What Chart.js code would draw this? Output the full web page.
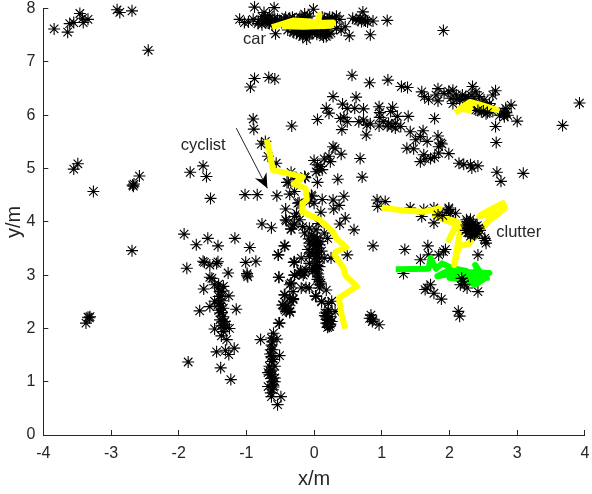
<!DOCTYPE html>
<html lang="en">
<head>
  <meta charset="UTF-8">
  <title>Radar detections</title>
  <script src="https://cdn.jsdelivr.net/npm/chart.js"></script>
  <style>
    html, body { margin: 0; background: #fff; }
    canvas { display: block; }
  </style>
</head>
<body>
<canvas id="chart" width="592" height="494"></canvas>

<script>
  const xTicks = [-4, -3, -2, -1, 0, 1, 2, 3, 4];
  const yTicks = [0, 1, 2, 3, 4, 5, 6, 7, 8];

  const farLeftPoints = [
    [-3.84,7.62],[-3.64,7.56],[-3.61,7.72],[-3.55,7.74],[-3.46,7.91],[-3.42,7.82],[-3.41,7.74],[-3.34,7.8],
    [-2.91,7.98],[-2.87,7.93],[-2.69,7.96],[-2.45,7.22],[-3.55,4.99],[-3.49,5.09],[-3.26,4.57],[-2.68,4.69],
    [-2.66,4.71],[-2.67,4.67],[-2.58,4.86],[-1.83,4.93],[-1.64,5.05],[-1.59,4.85],[-1.53,4.44],[-1.02,4.51],
    [-0.84,4.51],[-1.92,3.77],[-1.57,3.69],[-1.17,3.69],[-2.69,3.46],[-3.37,2.1],[-3.34,2.21],[-3.31,2.22],
    [-3.32,2.2],[-1.86,1.37],[-1.88,3.13],[-1.74,3.57],[-1.42,3.55]
  ];
  const carPoints = [
    [-0.88,8.03],[-0.59,8.02],[-0.74,7.93],[-0.01,7.99],[0.72,7.94],[1.08,7.78],[0.83,7.51],[0.52,7.49],
    [-0.57,7.53],[1.91,7.59],[-0.14,7.9],[-0.66,7.88],[-0.77,7.85],[0.33,7.86],
    [-1.1,7.8],[-1.03,7.74],[-0.97,7.75],[-0.9,7.8],[-0.83,7.72],[-0.77,7.7],[-0.71,7.76],[-0.66,7.72],
    [-0.61,7.8],[-0.56,7.74],[-0.51,7.78],[-0.44,7.8],[-0.36,7.82],[-0.29,7.8],[-0.21,7.84],[-0.14,7.82],
    [-0.07,7.86],[0.15,7.82],[0.23,7.84],[0.3,7.8],[0.38,7.8],[0.57,7.82],[0.65,7.78],[0.7,7.76],
    [0.74,7.8],[0.79,7.75],[0.87,7.77],[-0.82,7.76],[-0.74,7.78],[-0.69,7.8],[-0.63,7.76],[-0.58,7.8],
    [-0.39,7.6],[-0.31,7.57],[-0.26,7.54],[-0.21,7.51],[-0.17,7.48],[-0.11,7.43],[-0.07,7.51],[-0.02,7.54],
    [0.06,7.57],[0.13,7.51],[0.18,7.48],[0.25,7.54],[0.33,7.63],[0.4,7.6],[0.46,7.66],[-0.3,7.55],
    [-0.22,7.6],[-0.14,7.56],[-0.06,7.6],[0.02,7.58],[0.1,7.58],[0.2,7.6],[-0.16,7.52],[0.14,7.47],
    [-0.72,7.82],[-0.68,7.74],[-0.62,7.7],[-0.54,7.8],[-0.48,7.74],[-0.42,7.84],[-0.32,7.84],[-0.25,7.78],
    [-0.18,7.83],[-0.1,7.84],[0.12,7.84],[0.2,7.8],[0.27,7.83],[-0.26,7.6],[-0.18,7.56],[-0.1,7.52],
    [-0.03,7.58],[0.04,7.52],[0.1,7.53],[0.17,7.55],[0.22,7.52],[0.62,7.8],[0.68,7.82],[0.76,7.77]
  ];
  const upperRightPoints = [
    [0.56,6.75],[0.82,6.61],[1.09,6.66],[1.29,6.54],[1.38,6.52],[1.59,6.44],[1.63,6.35],[1.69,6.3],
    [1.83,6.5],[1.8,6.38],[1.83,6.27],[1.92,6.41],[1.99,6.45],[2.05,6.47],[2.02,6.32],[2.1,6.38],
    [2.15,6.29],[2.05,6.22],[2.19,6.38],[2.24,6.35],[2.34,6.54],[2.39,6.44],[2.32,6.38],[2.44,6.35],
    [2.51,6.29],[2.59,6.22],[2.68,6.46],[2.64,6.38],[2.91,6.19],[2.83,6.13],[2.79,6.07],[2.86,6],
    [2.81,5.97],[2.74,6],[3,5.89],[2.68,5.79],[1.78,5.94],[2.64,6.07],[2.54,6.03],[2.47,6.07],
    [2.39,6.1],[2.37,6.22],[2.44,6.14],[3.92,6.23],[3.67,5.81],[2.69,5.49],[2.7,4.93],[3.09,4.91],[2.76,4.76],
    [2.1,6.3],[2.2,6.3],[2.28,6.32],[2.36,6.32],[2.48,6.24],[2.55,6.18],[2.62,6.14],[2.84,6.05],[2.8,6.02]
  ];
  const midPoints = [
    [2.14,5.1],[2.21,5.08],[2.31,5.07],[2.33,5.01],[2.42,5.05],[1.99,5.28],[1.84,5.29],[1.78,5.21],
    [1.72,5.19],[1.64,5.18],[1.57,5.13],[1.62,5.26],[1.37,5.38],[1.47,5.37],[1.83,5.61],[1.87,5.48],
    [1.89,5.46],[1.84,5.41],[1.67,5.51],[1.61,5.71],[1.57,5.6],[1.5,5.54],[1.42,5.69],[1.39,5.98],
    [0.28,6.35],[0.62,6.34],[0.18,6.13],[0.22,6.04],[0.42,6.21],[0.49,6.13],[0.6,6.13],[0.73,6.12],
    [0.05,5.92],[0.39,5.94],[0.44,5.96],[0.49,5.88],[0.41,5.73],[0.66,5.88],[0.73,5.91],[0.78,5.82],
    [0.83,5.84],[0.77,5.63],[0.96,6.16],[0.97,6.05],[1.16,6.15],[1.13,6.07],[0.96,5.8],[0.97,5.96],
    [1.08,5.8],[1.15,5.79],[1.2,5.76],[1.23,5.98],[1.2,5.85],[1.28,5.79],[1.1,5.85],[1.02,5.88],
    [0.28,5.41],[0.31,5.38],[0.4,5.27],[0.68,5.19],[0.22,5.23],[0.24,5.13],[0.15,5.18],[0,5.15],
    [0.05,5.07],[0.07,4.98],[0.1,5.04],[0.03,4.94],[0.12,4.98],[0.35,4.8],[0.71,4.84],[0.05,4.74],
    [-0.13,4.83],[0.93,4.41],[1.05,4.38],[0.94,4.29],[0.44,4.48],[0.28,4.41],[0.12,4.42],[0.29,4.24],
    [0.37,4.31],[0.1,4.18],[-0.03,4.48],[0,4.35],[0.46,4.07],[0.38,3.96],[0.59,3.85],[0.87,3.55],[0.49,3.38]
  ];
  const cyclistTopPoints = [
    [-0.88,6.69],[-0.94,6.53],[-0.67,6.71],[-0.58,6.68],[-0.9,5.93],[-0.89,5.74],[-0.33,5.8],[-0.78,5.46],
    [-0.72,5.51],[-0.68,5.23],[-0.56,5.1],[-0.34,4.93],[-0.4,4.74],[-0.29,4.79],[-0.29,4.57],[-0.36,4.52],
    [-0.55,4.49],[-0.24,4.35],[-0.42,4.24],[-0.26,4.16],[-0.29,4.1],[-0.42,4.04],[-0.29,3.96],[-0.34,3.87],
    [-0.77,3.96],[-0.63,3.89],[-0.14,4.85],[-0.38,4.74],[-0.22,4.36],[-0.04,4.5],[-0.07,4.38]
  ];
  const centerPoints = [
    [-0.41,4.02],[-0.21,4.04],[-0.34,3.86],[-0.31,3.94],[-0.17,3.91],[-0.14,3.79],[-0.07,3.88],[0.03,3.85],
    [0.06,3.97],[0.15,3.79],[0.2,3.69],[-0.43,3.55],[-0.53,3.38],[-0.07,3.6],[0.01,3.63],[0.08,3.57],
    [-0.09,3.48],[-0.02,3.48],[0.06,3.51],[0.11,3.45],[-0.19,3.32],[-0.29,3.25],[-0.07,3.35],[0.01,3.32],
    [0.08,3.32],[0.15,3.32],[0.25,3.32],[-0.07,3.22],[0.01,3.19],[0.08,3.16],[-0.12,3.1],[-0.19,3.05],
    [-0.14,3.04],[-0.02,3.07],[-0.29,3],[-0.52,2.96],[0.06,2.97],[0.08,2.88],[-0.34,2.85],[-0.19,2.76],
    [-0.12,2.77],[-0.07,2.76],[0.08,2.76],[0.18,2.72],[-0.43,2.63],[-0.31,2.69],[-0.36,2.57],[-0.31,2.54],
    [0.03,2.6],[0.11,2.51],[0.21,2.47],[0.26,2.51],[-0.46,2.44],[-0.43,2.35],[-0.36,2.3],[0.16,2.29],
    [0.21,2.35],[0.31,2.32],[0.18,2.22],[0.25,2.22],[0.21,2.07],[0.23,2.04],[0.18,2.1],[-0.52,2.1],
    [0.26,2.13],[-0.04,3.75],[0.05,3.7],[-0.08,3.68],[0.1,3.63],[0.02,3.55],[-0.06,3.42],[0.02,3.42],
    [0.05,3.25],[0.02,3.1],[0.04,3.04],[0.08,2.82],[-0.16,3.0],[-0.22,3.03],[0.2,2.28],[0.22,2.15],
    [0,3.72],[0.04,3.62],[-0.02,3.58],[0.05,3.45],[0.03,3.36],[0.05,3.18],[-0.02,3.14],[-0.2,3.08],
    [0.06,3.02],[0.05,2.92],[0.1,2.85],[0.19,2.17],[0.24,2.08],[0.2,2.02],[-0.4,2.44],[-0.38,2.38]
  ];
  const leftColumnPoints = [
    [-1.64,3.26],[-1.62,3.24],[-1.54,3.19],[-1.44,3.22],[-1.42,3.25],[-1.27,3.04],[-1.54,2.96],[-1.51,2.94],
    [-1.01,3.24],[-0.86,3.26],[-0.99,3],[-0.99,3.03],[-0.98,2.97],[-0.95,3.52],[-0.53,3.38],[-0.44,3.55],
    [-0.3,3.24],[-0.29,3],[-0.52,2.96],[-0.51,2.1],[-0.36,2.32],[-0.44,2.38],[-0.34,2.85],[-0.44,2.63],
    [-0.31,2.56],[-0.34,2.5],[-0.47,2.44],[-0.41,2.32],[-0.36,2.82],
    [-1.63,2.74],[-1.47,2.82],[-1.42,2.76],[-1.34,2.79],[-1.39,2.69],[-1.37,2.6],[-1.26,2.61],[-1.47,2.51],
    [-1.54,2.41],[-1.69,2.33],[-1.42,2.44],[-1.34,2.38],[-1.15,2.36],[-1.39,2.29],[-1.34,2.22],[-1.39,2.16],
    [-1.32,2.13],[-1.47,1.99],[-1.3,2.07],[-1.25,2],[-1.34,1.94],[-1.37,1.86],[-1.29,1.79],[-1.44,1.56],
    [-1.31,1.59],[-1.18,1.63],[-1.26,1.51],[-1.38,1.26],[-1.23,1.04],[-1.41,2.6],[-1.36,2.52],[-1.38,2.42],
    [-1.41,2.34],[-1.37,2.05],[-1.41,2.83],[-1.36,2.7],[-1.4,2.47],[-1.36,2.3],[-1.33,2.02],[-1.36,2.12]
  ];
  const lowerColumnPoints = [
    [-0.79,1.79],[-0.6,1.91],[-0.55,1.8],[-0.63,1.82],[-0.63,1.69],[-0.64,1.6],[-0.51,1.49],[-0.63,1.47],
    [-0.63,1.38],[-0.58,1.29],[-0.68,1.17],[-0.61,1.13],[-0.58,1.07],[-0.68,0.91],[-0.61,0.94],[-0.58,1],
    [-0.61,0.85],[-0.63,0.72],[-0.49,0.72],[-0.54,0.57],[-0.66,1.13],[-0.62,1],[-0.66,1.29],[-0.61,1.6],
    [-0.64,0.79],[-0.62,1.75],[-0.65,1.52],[-0.6,1.42],[-0.65,1.2],[-0.63,1.06],[-0.6,0.9],[-0.62,1.22]
  ];
  const clutterPoints = [
    [1.34,3.48],[1.68,3.55],[1.94,3.48],[2.42,3.38],[2.53,3.65],[2.54,3.6],[2.52,3.69],[1.57,3.29],
    [1.69,3.38],[1.84,3.38],[1.91,3.44],[1.32,3.03],[1.67,2.76],[1.64,2.73],[1.77,2.66],[1.88,2.55],
    [1.72,2.82],[2.13,2.32],[2.15,2.23],[2.42,2.69],[2.26,2.76],[2.16,2.82],[1.42,4.26],[1.59,4.1],
    [1.77,3.98],[1.62,4.23],[1.77,4.26],[1.99,4.26],[2.09,4.16],[2.01,4.16],[1.96,4.18],[0.85,2.19],
    [0.82,2.19],[0.87,2.16],[0.84,2.25],[0.86,2.13],[0.96,2.07],[0.22,2.04],[0.19,2.29],[0.02,2.61],
    [0.11,2.5],[0.2,2.1],[0.16,2.24]
  ];
  // parts of the clutter that show on top of the tracks
  const overlapPoints = [
    [2.25,4.04],[2.31,4.05],[2.28,3.96],[2.35,3.98],[2.41,3.93],[2.27,3.88],[2.33,3.88],[2.39,3.86],
    [2.45,3.84],[2.29,3.79],[2.35,3.8],[2.31,3.73],[2.37,3.76],[1.83,4.13],[1.9,4.12],[1.99,4.23],
    [2.18,2.94],[2.2,2.88],[2.22,2.83],[2.26,4],[2.3,3.98],[2.34,3.94],[2.38,3.92],[2.25,3.94],
    [2.29,3.92],[2.31,3.84],[2.36,3.84],[2.41,3.82],[2.27,3.8],[2.33,3.78],[2.39,3.78],[2.33,3.92],
    [2.29,3.86],[2.24,3.84],[2.43,3.88],[2.42,6.09],[2.5,6.08],[2.56,6.05]
  ];

  const cyclistTrack = [
    [-0.69,5.49],[-0.646,5.22],[-0.607,4.97],[-0.386,4.91],[-0.165,4.84],[-0.302,4.71],[-0.125,4.63],
    [-0.106,4.41],[-0.165,4.35],[-0.174,4.19],[0.081,4.04],[0.277,3.82],[0.327,3.69],[0.475,3.52],
    [0.317,3.44],[0.302,3.38],[0.435,3.13],[0.465,2.99],[0.631,2.79],[0.366,2.57],[0.401,2.29],[0.45,2.05]
  ];
  const carTrack = [
    [-0.58,7.67],[-0.3,7.78],[-0.05,7.76],[0.05,7.72],[0.08,7.88],[0.05,7.73],[0.28,7.74],[0.25,7.68],
    [-0.17,7.66],[-0.43,7.67],[-0.1,7.74],[0.25,7.7]
  ];
  const upperRightTrack = [
    [2.12,6.08],[2.3,6.22],[2.3,6.1],[2.15,6.12],[2.3,6.25],[2.45,6.2],[2.7,6.1],[2.42,6.18]
  ];
  const clutterTrack = [
    [1.04,4.26],[1.35,4.21],[1.62,4.19],[1.85,4.25],[1.78,4.12],[2.12,4],[1.99,3.66],[2.12,3.98],
    [1.9,4.05],[2.17,3.92],[2.07,3.19],[2.14,3.55],[2.28,3.58],[2.58,4.02],[2.74,4.17],
    [2.44,4.11],[2.5,4.16],[2.79,4.35],[2.82,4.26],[2.58,4.03]
  ];
  const greenTrack = [
    [1.25,3.11],[1.69,3.12],[1.72,3.32],[1.8,3.12],[1.89,3.22],[2.04,3.13],[2.25,3.08],[1.82,2.98],
    [2,3.1],[2,2.95],[2.18,2.92],[2.38,2.82],[2.55,2.96],[2.35,3],[2.59,3.04],[2.43,3.05],
    [2.38,3.19],[2.45,3.06],[2.2,3.05],[2.3,2.92],[2.55,2.95]
  ];

  const noteLabels = ['car', 'cyclist', 'clutter'];
  const noteX = [-1.05, -1.97, 2.69];
  const noteY = [7.43, 5.44, 3.81];
  const arrowFrom = [-1.15, 5.76];
  const arrowTo = [-0.69, 4.63];

  const xy = (p) => ({ x: p[0], y: p[1] });
  const INK = '#262626';
  const FONT = '"Liberation Sans", Arial, sans-serif';

  function stars(points, order) {
    return {
      data: points.map(xy),
      showLine: false,
      pointStyle: 'star',
      pointRadius: 6,
      pointBorderWidth: 1.1,
      pointBorderColor: '#000',
      pointBackgroundColor: '#000',
      clip: false,
      order: order
    };
  }

  function track(points, color) {
    return {
      data: points.map(xy),
      showLine: true,
      borderColor: color,
      borderWidth: 6,
      borderJoinStyle: 'round',
      borderCapStyle: 'square',
      pointRadius: 0,
      tension: 0,
      clip: false,
      order: 2
    };
  }

  const notes = {
    id: 'notes',
    afterDatasetsDraw(chart) {
      const ctx = chart.ctx;
      const sx = chart.scales.x;
      const sy = chart.scales.y;
      ctx.save();
      ctx.fillStyle = INK;
      ctx.font = '16.5px ' + FONT;
      ctx.textBaseline = 'middle';
      noteLabels.forEach((t, i) => {
        ctx.fillText(t, sx.getPixelForValue(noteX[i]), sy.getPixelForValue(noteY[i]));
      });

      const x0 = sx.getPixelForValue(arrowFrom[0]);
      const y0 = sy.getPixelForValue(arrowFrom[1]);
      const x1 = sx.getPixelForValue(arrowTo[0]);
      const y1 = sy.getPixelForValue(arrowTo[1]);
      ctx.strokeStyle = INK;
      ctx.lineWidth = 1;
      ctx.beginPath();
      ctx.moveTo(x0, y0);
      ctx.lineTo(x1, y1);
      ctx.stroke();

      // filled head with the swept back notch
      const a = Math.atan2(y1 - y0, x1 - x0);
      ctx.fillStyle = '#000';
      ctx.beginPath();
      ctx.moveTo(x1, y1);
      ctx.lineTo(x1 - 16 * Math.cos(a - 0.42), y1 - 16 * Math.sin(a - 0.42));
      ctx.lineTo(x1 - 10 * Math.cos(a), y1 - 10 * Math.sin(a));
      ctx.lineTo(x1 - 16 * Math.cos(a + 0.42), y1 - 16 * Math.sin(a + 0.42));
      ctx.closePath();
      ctx.fill();
      ctx.restore();
    }
  };

  const axisGrid = {
    drawOnChartArea: false,
    drawTicks: true,
    tickLength: -5,
    tickColor: INK,
    tickWidth: 1
  };

  // tick labels may hang past the plot, keep them from shrinking it
  function noLabelMargin(s) {
    s.paddingLeft = 0;
    s.paddingRight = 0;
    s.paddingTop = 0;
    s.paddingBottom = 0;
  }

  new Chart(document.getElementById('chart'), {
    type: 'scatter',
    data: {
      datasets: [
        stars(overlapPoints, 1),
        track(cyclistTrack, '#ffff00'),
        track(carTrack, '#ffff00'),
        track(upperRightTrack, '#ffff00'),
        track(clutterTrack, '#ffff00'),
        track(greenTrack, '#00ff00'),
        stars(farLeftPoints, 3),
        stars(carPoints, 3),
        stars(upperRightPoints, 3),
        stars(midPoints, 3),
        stars(cyclistTopPoints, 3),
        stars(centerPoints, 3),
        stars(leftColumnPoints, 3),
        stars(lowerColumnPoints, 3),
        stars(clutterPoints, 3)
      ]
    },
    options: {
      responsive: false,
      animation: false,
      events: [],
      layout: { padding: { top: 8.7, right: 6, left: 0, bottom: 0 } },
      plugins: {
        legend: { display: false },
        tooltip: { enabled: false }
      },
      scales: {
        x: {
          type: 'linear',
          min: xTicks[0],
          max: xTicks[xTicks.length - 1],
          afterBuildTicks: (s) => { s.ticks = xTicks.map((v) => ({ value: v })); },
          afterFit: (s) => { s.height = 59; noLabelMargin(s); },
          border: { color: INK, width: 1 },
          grid: axisGrid,
          ticks: {
            color: INK,
            padding: 14,
            maxRotation: 0,
            font: { family: FONT, size: 16 }
          },
          title: {
            display: true,
            text: 'x/m',
            color: INK,
            font: { family: FONT, size: 20 },
            padding: { top: 0, bottom: 3 }
          }
        },
        y: {
          type: 'linear',
          min: yTicks[0],
          max: yTicks[yTicks.length - 1],
          afterBuildTicks: (s) => { s.ticks = yTicks.map((v) => ({ value: v })); },
          afterFit: (s) => { s.width = 43.3; noLabelMargin(s); },
          border: { color: INK, width: 1 },
          grid: axisGrid,
          ticks: {
            color: INK,
            padding: 13,
            font: { family: FONT, size: 16 }
          },
          title: {
            display: true,
            text: 'y/m',
            color: INK,
            font: { family: FONT, size: 20 },
            padding: { top: 2, bottom: 0 }
          }
        }
      }
    },
    plugins: [notes]
  });
</script>
</body>
</html>
